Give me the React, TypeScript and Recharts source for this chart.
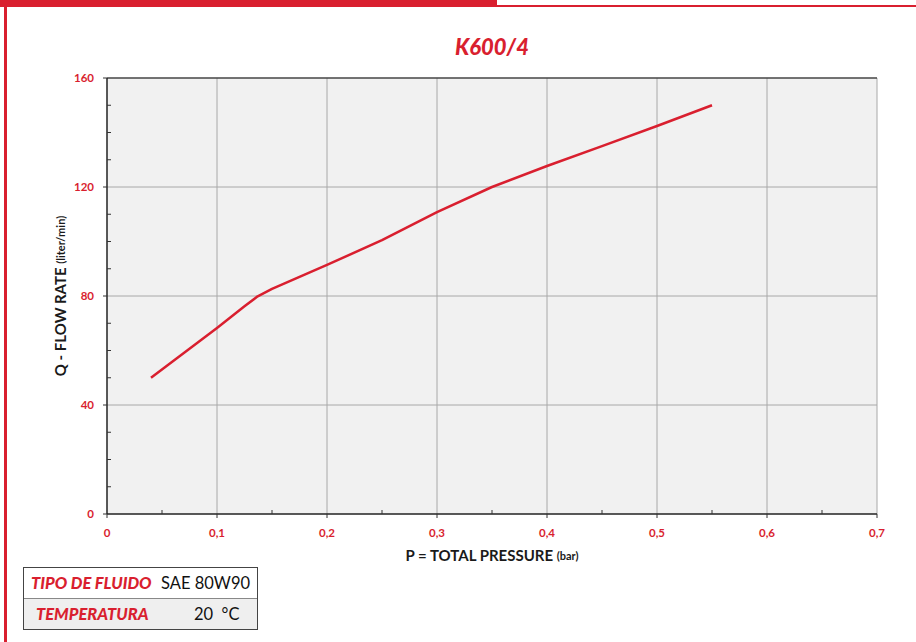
import React from 'react';
import {
  LineChart,
  Line,
  XAxis,
  YAxis,
  CartesianGrid,
  ReferenceLine,
} from 'recharts';

// pressure (bar) vs flow rate (liter/min)
const pressure = [0.04, 0.1, 0.125, 0.137, 0.15, 0.2, 0.25, 0.3, 0.35, 0.4, 0.45, 0.5, 0.55];
const flowRate = [50, 68.3, 76.2, 79.9, 82.6, 91.4, 100.5, 110.8, 120, 127.7, 135, 142.4, 150];

const xMajor = [0, 0.1, 0.2, 0.3, 0.4, 0.5, 0.6, 0.7];
const xTicks = [0, 0.05, 0.1, 0.15, 0.2, 0.25, 0.3, 0.35, 0.4, 0.45, 0.5, 0.55, 0.6, 0.65, 0.7];
const yMajor = [0, 40, 80, 120, 160];
const yTicks = [0, 10, 20, 30, 40, 50, 60, 70, 80, 90, 100, 110, 120, 130, 140, 150, 160];

const fluidRows = [
  { label: 'TIPO DE FLUIDO', value: 'SAE 80W90' },
  { label: 'TEMPERATURA', value: '20  °C' },
];

const data = pressure.map((p, i) => ({ p, q: flowRate[i] }));

const RED = '#d91f2f';
const FONT = 'Lato, "Open Sans", sans-serif';
const TICK_SIZE = 5;
const TICK_MARGIN = 8;

const isMajor = (list: number[], v: number) => list.some((m) => Math.abs(m - v) < 1e-9);

const XTick = (props: any) => {
  const { x, y, payload } = props;
  const axisY = y - TICK_SIZE - TICK_MARGIN;
  if (!isMajor(xMajor, payload.value)) {
    return <line x1={x} x2={x} y1={axisY} y2={axisY - 4} stroke="#333" strokeWidth={1} />;
  }
  const label = payload.value === 0 ? '0' : String(payload.value).replace('.', ',');
  return (
    <g>
      <line x1={x} x2={x} y1={axisY} y2={axisY + 4} stroke="#333" strokeWidth={1} />
      <text x={x} y={y + 1} dy="0.75em" textAnchor="middle" fill={RED} fontSize={11.5} fontWeight={700} fontFamily={FONT}>
        {label}
      </text>
    </g>
  );
};

const YTick = (props: any) => {
  const { x, y, payload } = props;
  const axisX = x + TICK_SIZE + TICK_MARGIN;
  if (!isMajor(yMajor, payload.value)) {
    return <line x1={axisX} x2={axisX + 4} y1={y} y2={y} stroke="#333" strokeWidth={1} />;
  }
  return (
    <g>
      <line x1={axisX - 4} x2={axisX} y1={y} y2={y} stroke="#333" strokeWidth={1} />
      <text x={x} y={y} dy="0.35em" textAnchor="end" fill={RED} fontSize={11.5} fontWeight={700} fontFamily={FONT}>
        {payload.value}
      </text>
    </g>
  );
};

const YLabel = (props: any) => {
  const { viewBox } = props;
  const cx = viewBox.x + 13;
  const cy = viewBox.y + viewBox.height / 2;
  return (
    <text
      x={cx}
      y={cy}
      transform={`rotate(-90 ${cx} ${cy})`}
      textAnchor="middle"
      dominantBaseline="central"
      fontSize={15}
      fontWeight={700}
      fontFamily={FONT}
      fill="#1a1a1a"
    >
      Q - FLOW RATE <tspan fontSize={11}>(liter/min)</tspan>
    </text>
  );
};

const XLabel = (props: any) => {
  const { viewBox } = props;
  return (
    <text
      x={viewBox.x + viewBox.width / 2}
      y={viewBox.y + 41}
      textAnchor="middle"
      dominantBaseline="central"
      fontSize={15}
      fontWeight={700}
      fontFamily={FONT}
      fill="#1a1a1a"
    >
      P = TOTAL PRESSURE <tspan fontSize={11}>(bar)</tspan>
    </text>
  );
};

export default function App() {
  return (
    <div style={{ position: 'absolute', left: 0, top: 0, width: 916, height: 642, background: '#fff', overflow: 'hidden' }}>
      {/* page frame */}
      <div style={{ position: 'absolute', left: 0, top: 0, width: 497, height: 7, background: RED }} />
      <div style={{ position: 'absolute', left: 497, top: 5, width: 419, height: 2, background: RED }} />
      <div style={{ position: 'absolute', left: 4, top: 0, width: 3, height: 642, background: RED }} />

      <div
        style={{
          position: 'absolute',
          left: 392,
          top: 33,
          width: 200,
          textAlign: 'center',
          color: RED,
          fontFamily: FONT,
          fontWeight: 900,
          fontStyle: 'italic',
          fontSize: 22,
        }}
      >
        K600/4
      </div>

      <div style={{ position: 'absolute', left: 0, top: 0 }}>
        <LineChart width={916} height={642} data={data} margin={{ top: 78, right: 39, bottom: 98, left: 47 }}>
          <CartesianGrid fill="#f1f1f1" horizontal={false} vertical={false} stroke="none" />
          {xMajor.slice(1).map((v) => (
            <ReferenceLine key={`vx-${v}`} x={v} stroke="#a8a8a8" strokeWidth={1} />
          ))}
          {yMajor.slice(1, -1).map((v) => (
            <ReferenceLine key={`hy-${v}`} y={v} stroke="#a8a8a8" strokeWidth={1} />
          ))}
          <ReferenceLine y={160} stroke="#444" strokeWidth={1.5} />
          <XAxis
            dataKey="p"
            type="number"
            domain={[0, 0.7]}
            ticks={xTicks}
            interval={0}
            tickSize={TICK_SIZE}
            tickMargin={TICK_MARGIN}
            tickLine={false}
            tick={<XTick />}
            axisLine={{ stroke: '#222', strokeWidth: 1.5 }}
            height={30}
            label={<XLabel />}
          />
          <YAxis
            type="number"
            domain={[0, 160]}
            ticks={yTicks}
            interval={0}
            tickSize={TICK_SIZE}
            tickMargin={TICK_MARGIN}
            tickLine={false}
            tick={<YTick />}
            axisLine={{ stroke: '#222', strokeWidth: 1.5 }}
            width={60}
            label={<YLabel />}
          />
          <Line
            type="linear"
            dataKey="q"
            stroke={RED}
            strokeWidth={2.5}
            strokeLinejoin="round"
            dot={false}
            isAnimationActive={false}
          />
        </LineChart>
      </div>

      {/* fluid info table */}
      <div
        style={{
          position: 'absolute',
          left: 23,
          top: 567,
          width: 233,
          border: '1.5px solid #444',
          fontFamily: FONT,
        }}
      >
        {fluidRows.map((row, i) => (
          <div
            key={row.label}
            style={{
              display: 'flex',
              alignItems: 'center',
              height: 30,
              background: i === 1 ? '#efefef' : '#fff',
              borderTop: i === 1 ? '1.5px solid #888' : 'none',
            }}
          >
            <span
              style={{
                color: RED,
                fontWeight: 900,
                fontStyle: 'italic',
                fontSize: 16.5,
                paddingLeft: i === 0 ? 7 : 12,
                width: i === 0 ? 130 : 158,
                whiteSpace: 'nowrap',
              }}
            >
              {row.label}
            </span>
            <span style={{ fontSize: 16.5, color: '#111', whiteSpace: 'pre' }}>{row.value}</span>
          </div>
        ))}
      </div>
    </div>
  );
}
